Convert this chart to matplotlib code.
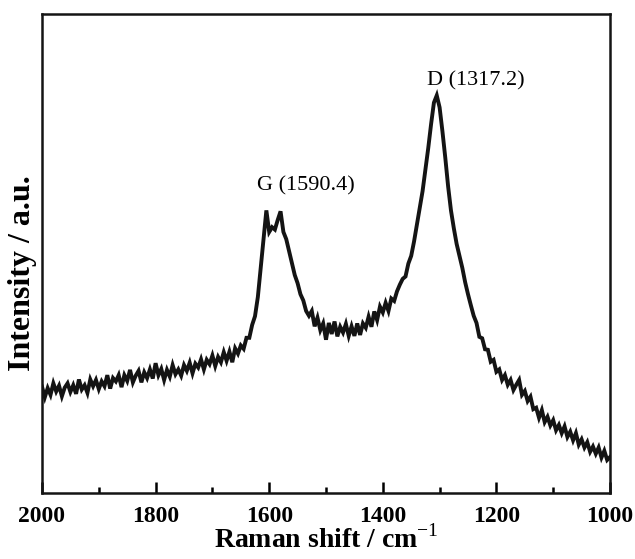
import matplotlib
matplotlib.use("Agg")
import matplotlib.pyplot as plt
import numpy as np
from matplotlib.ticker import MultipleLocator

plt.rcParams['font.family'] = ['Liberation Serif', 'DejaVu Serif']
plt.rcParams['mathtext.fontset'] = 'custom'
plt.rcParams['mathtext.rm'] = 'Liberation Serif'
plt.rcParams['mathtext.bf'] = 'Liberation Serif:bold'

# Raman shift (cm-1), read every 5 cm-1 from 2000 down to 1000
shift = np.arange(2000, 999, -5)

# intensity (a.u., 0-100 of the plot height)
intensity = [
    22.2, 20.0, 21.9, 20.5, 22.9, 21.2, 22.4, 20.2, 22.0, 22.9,   # 2000-1955
    21.1, 22.5, 20.7, 23.7, 21.6, 22.5, 20.9, 23.7, 22.3, 23.6,   # 1950-1905
    21.7, 23.3, 22.3, 24.6, 21.8, 24.0, 23.3, 24.6, 22.1, 24.6,   # 1900-1855
    23.4, 25.7, 23.1, 24.5, 25.5, 23.1, 25.2, 24.0, 25.8, 23.9,   # 1850-1805
    27.1, 24.6, 25.9, 23.6, 25.7, 24.3, 26.7, 24.8, 25.8, 24.5,   # 1800-1755
    26.7, 25.5, 27.2, 25.0, 27.0, 26.2, 27.9, 25.8, 27.8, 26.9,   # 1750-1705
    28.7, 26.5, 28.4, 27.3, 29.4, 27.6, 29.5, 27.3, 30.2, 29.1,   # 1700-1655
    30.8, 30.1, 32.4, 32.4, 35.1, 36.9, 40.9, 47.0, 53.0, 59.0,   # 1650-1605
    54.5, 55.5, 55.0, 57.0, 58.8, 54.5, 53.0, 50.5, 48.0, 45.5,   # 1600-1555
    43.8, 41.5, 40.2, 38.0, 37.0, 38.0, 34.8, 36.6, 34.0, 35.4,   # 1550-1505
    32.0, 35.5, 33.2, 35.8, 32.7, 34.7, 33.5, 35.3, 32.8, 34.8,   # 1500-1455
    32.8, 35.4, 33.0, 35.4, 34.5, 36.8, 34.7, 37.9, 36.1, 38.9,   # 1450-1405
    37.7, 39.7, 38.0, 40.6, 40.1, 42.1, 43.5, 44.7, 45.2, 47.9,   # 1400-1355
    49.5, 52.5, 56.0, 59.5, 63.0, 67.5, 72.0, 77.0, 81.5, 83.0,   # 1350-1305
    80.5, 75.5, 70.0, 64.0, 59.0, 55.3, 52.0, 49.5, 47.0, 44.0,   # 1300-1255
    41.5, 39.2, 37.0, 35.5, 32.6, 32.3, 30.0, 29.9, 27.4, 27.8,   # 1250-1205
    25.3, 25.8, 23.6, 24.6, 22.6, 23.6, 21.5, 22.6, 23.6, 20.5,   # 1200-1155
    21.3, 19.2, 20.1, 17.5, 17.8, 15.7, 17.3, 14.8, 15.9, 14.1,   # 1150-1105
    15.2, 13.1, 14.2, 12.5, 13.9, 11.7, 12.8, 11.0, 12.5, 10.1,   # 1100-1055
    11.2, 9.5, 10.6, 8.6, 9.7, 8.2, 9.5, 7.4, 8.8, 6.9,           # 1050-1005
    7.5,                                                          # 1000
]

peak_labels = ['G (1590.4)', 'D (1317.2)']
label_x = [1621, 1322]
label_y = [64.1, 86.0]

fig = plt.figure(figsize=(6.35, 5.59), dpi=100)
ax = fig.add_axes([42 / 635, 1 - 493 / 559, 568 / 635, 479 / 559])

ax.plot(shift, intensity, color='#141414', linewidth=2.8, solid_joinstyle='miter')

for txt, x, y in zip(peak_labels, label_x, label_y):
    ax.text(x, y, txt, fontsize=16, ha='left', va='center')

ax.set_xlim(2000, 1000)
ax.set_ylim(0, 100)
ax.xaxis.set_major_locator(MultipleLocator(200))
ax.xaxis.set_minor_locator(MultipleLocator(100))
ax.tick_params(axis='x', which='both', direction='in', top=False, width=1.8)
ax.tick_params(axis='x', which='major', length=8, pad=9, labelsize=17)
ax.tick_params(axis='x', which='minor', length=4)
ax.set_yticks([])
for lbl in ax.get_xticklabels():
    lbl.set_fontweight('bold')
for sp in ax.spines.values():
    sp.set_linewidth(1.8)
    sp.set_color('#141414')

ax.set_xlabel(r'Raman shift / cm$^{-1}$', fontsize=20, fontweight='bold', labelpad=-1)
ax.set_ylabel('Intensity / a.u.', fontsize=23, fontweight='bold')
ax.yaxis.set_label_coords(-0.009, 0.458)

fig.savefig('out.png', dpi=100)
